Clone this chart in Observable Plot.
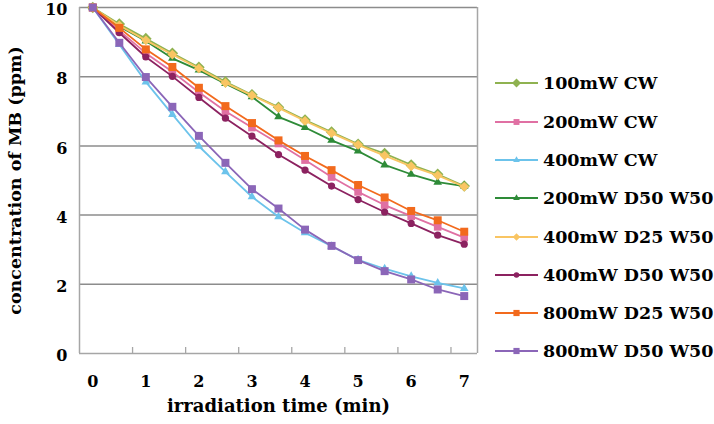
<!DOCTYPE html>
<html><head><meta charset="utf-8">
<script src="https://cdn.jsdelivr.net/npm/d3@7"></script>
<script src="https://cdn.jsdelivr.net/npm/@observablehq/plot@0.6"></script>
<style>
body{margin:0;background:#fff;}
#wrap{position:relative;width:714px;height:424px;overflow:hidden;}
.lg{position:absolute;left:495px;height:24px;display:flex;align-items:center;font:bold 17.5px "DejaVu Serif",serif;color:#000;white-space:nowrap;}
.lg svg{display:block;margin-right:4px;}
</style></head><body><div id="wrap"></div>
<script>
// time (min), one category every 0.5 min
const times = [0, 0.5, 1, 1.5, 2, 2.5, 3, 3.5, 4, 4.5, 5, 5.5, 6, 6.5, 7];
const xTickLabels = [0, 1, 2, 3, 4, 5, 6, 7];
const yTicks = [0, 2, 4, 6, 8, 10];

const seriesNames = ["100mW CW", "200mW CW", "400mW CW", "200mW D50 W50",
  "400mW D25 W50", "400mW D50 W50", "800mW D25 W50", "800mW D50 W50"];

const v100mW_CW      = [10, 9.52, 9.10, 8.68, 8.27, 7.85, 7.48, 7.12, 6.75, 6.40, 6.05, 5.78, 5.45, 5.18, 4.84];
const v200mW_CW      = [10, 9.33, 8.68, 8.14, 7.55, 7.00, 6.53, 6.07, 5.59, 5.10, 4.67, 4.29, 3.97, 3.66, 3.35];
const v400mW_CW      = [10, 8.93, 7.85, 6.91, 5.99, 5.25, 4.53, 3.95, 3.49, 3.10, 2.71, 2.45, 2.23, 2.04, 1.88];
const v200mW_D50_W50 = [10, 9.45, 9.03, 8.53, 8.19, 7.80, 7.42, 6.84, 6.53, 6.16, 5.85, 5.45, 5.18, 4.95, 4.84];
const v400mW_D25_W50 = [10, 9.48, 9.05, 8.64, 8.24, 7.82, 7.46, 7.10, 6.72, 6.37, 6.03, 5.72, 5.41, 5.15, 4.82];
const v400mW_D50_W50 = [10, 9.27, 8.57, 8.01, 7.40, 6.80, 6.28, 5.75, 5.30, 4.84, 4.45, 4.09, 3.76, 3.42, 3.16];
const v800mW_D25_W50 = [10, 9.41, 8.79, 8.28, 7.68, 7.15, 6.66, 6.16, 5.71, 5.30, 4.87, 4.51, 4.12, 3.85, 3.52];
const v800mW_D50_W50 = [10, 8.98, 7.99, 7.13, 6.29, 5.51, 4.75, 4.19, 3.58, 3.11, 2.70, 2.38, 2.14, 1.85, 1.66];

const seriesValues = [v100mW_CW, v200mW_CW, v400mW_CW, v200mW_D50_W50,
  v400mW_D25_W50, v400mW_D50_W50, v800mW_D25_W50, v800mW_D50_W50];

const colors = ["#8fb250", "#e070a3", "#6cc3eb", "#2e8b38", "#f9c563", "#8c2260", "#f26a1d", "#8b66b8"];
const symbols = [d3.symbolDiamond2, d3.symbolSquare, d3.symbolTriangle, d3.symbolTriangle,
  d3.symbolDiamond2, d3.symbolCircle, d3.symbolSquare, d3.symbolSquare];
const radii = [5.2, 4.3, 3.2, 3.2, 4.4, 3.6, 4.5, 4.5];

const data = seriesNames.map((name, k) => seriesValues[k].map((v, i) => ({series: name, t: times[i], c: v})));

// category boundary ticks every 2 categories (Excel category axis)
const tickBounds = [0.75, 1.75, 2.75, 3.75, 4.75, 5.75, 6.75];

const seriesMarks = [];
data.forEach((d, k) => {
  seriesMarks.push(Plot.line(d, {x: "t", y: "c", stroke: colors[k], strokeWidth: 1.8}));
  seriesMarks.push(Plot.dot(d, {x: "t", y: "c", symbol: symbols[k], r: radii[k], fill: colors[k], stroke: "none"}));
});

const chart = Plot.plot({
  width: 714, height: 424,
  marginLeft: 79, marginRight: 237, marginTop: 7, marginBottom: 71,
  style: {fontFamily: "'DejaVu Serif', serif", fontSize: "16px", fontWeight: "bold", color: "#000", background: "#fff", overflow: "visible"},
  x: {domain: [-0.25, 7.25]},
  y: {domain: [0, 10]},
  marks: [
    Plot.gridY([2, 4, 6, 8, 10], {stroke: "#8c8c8c", strokeOpacity: 1, strokeWidth: 1.5}),
    Plot.ruleX([-0.25, 7.25], {stroke: "#a6a6a6", strokeWidth: 1.5}),
    Plot.ruleY([0], {stroke: "#a6a6a6", strokeWidth: 1.5}),
    Plot.axisX(tickBounds, {tickSize: -6, tickFormat: () => "", stroke: "#a6a6a6", strokeWidth: 1.3, label: null}),
    Plot.axisY(yTicks, {tickSize: 0, tickPadding: 12, dy: 2.5, label: null}),
    Plot.axisX(xTickLabels, {tickSize: 0, tickPadding: 22, label: null}),
    ...seriesMarks,
    Plot.text(["concentration of MB (ppm)"], {frameAnchor: "left", textAnchor: "middle", dx: -64, rotate: -90, fontSize: 17.5, fontWeight: "bold"}),
    Plot.text(["irradiation time (min)"], {frameAnchor: "bottom", textAnchor: "middle", dy: 58, fontSize: 18, fontWeight: "bold"})
  ]
});

const wrap = document.getElementById("wrap");
wrap.appendChild(chart);

// legend
const legendY = [83.3, 121.6, 159.9, 198.2, 236.5, 274.8, 313.1, 351.4];
seriesNames.forEach((name, k) => {
  const div = document.createElement("div");
  div.className = "lg";
  div.style.top = (legendY[k] - 12) + "px";
  const s = d3.create("svg").attr("width", 44).attr("height", 24);
  s.append("line").attr("x1", 0).attr("x2", 43).attr("y1", 12).attr("y2", 12).attr("stroke", colors[k]).attr("stroke-width", 1.8);
  s.append("path").attr("transform", "translate(21.5,12)")
    .attr("d", d3.symbol(symbols[k], Math.PI * radii[k] * radii[k] * 0.6)())
    .attr("fill", colors[k]);
  div.appendChild(s.node());
  const span = document.createElement("span");
  span.textContent = name;
  div.appendChild(span);
  wrap.appendChild(div);
});
</script>
</body></html>
